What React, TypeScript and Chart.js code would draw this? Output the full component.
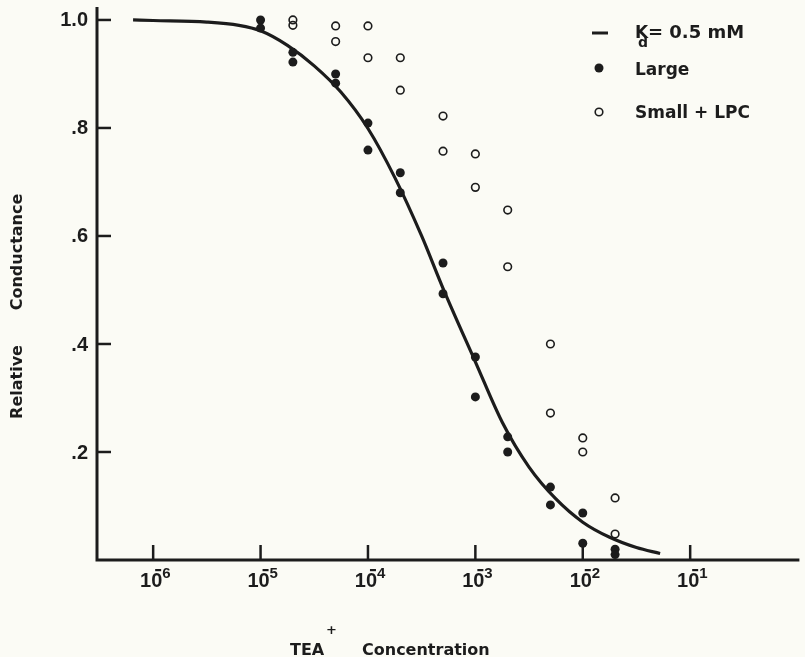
import React, { useEffect, useRef } from 'react';
import { Chart, registerables } from 'chart.js';

Chart.register(...registerables);

// ---- Data ----
// Fitted curve, Kd = 0.5 mM
const curveX = [6.5e-7, 1e-6, 3.16e-6, 6.3e-6, 1e-5, 1.78e-5, 3.16e-5, 5.62e-5, 1e-4, 1.78e-4, 3.16e-4, 5.0e-4, 1e-3, 1.78e-3, 3.16e-3, 5.62e-3, 1e-2, 1.78e-2, 3.16e-2, 5.25e-2];
const curveY = [1.0, 0.999, 0.996, 0.99, 0.98, 0.953, 0.915, 0.866, 0.799, 0.708, 0.6, 0.503, 0.367, 0.255, 0.172, 0.113, 0.07, 0.042, 0.023, 0.012];

// Large (filled circles)
const largeX = [1e-5, 1e-5, 2e-5, 2e-5, 5e-5, 5e-5, 1e-4, 1e-4, 2e-4, 2e-4, 5e-4, 5e-4, 1e-3, 1e-3, 2e-3, 2e-3, 5e-3, 5e-3, 1e-2, 1e-2, 2e-2, 2e-2];
const largeY = [1.0, 0.985, 0.94, 0.922, 0.9, 0.883, 0.809, 0.759, 0.717, 0.68, 0.55, 0.493, 0.376, 0.302, 0.228, 0.2, 0.135, 0.102, 0.087, 0.031, 0.02, 0.01];

// Small + LPC (open circles)
const smallX = [2e-5, 2e-5, 5e-5, 5e-5, 1e-4, 1e-4, 2e-4, 2e-4, 5e-4, 5e-4, 1e-3, 1e-3, 2e-3, 2e-3, 5e-3, 5e-3, 1e-2, 1e-2, 2e-2, 2e-2];
const smallY = [1.0, 0.99, 0.989, 0.96, 0.989, 0.93, 0.93, 0.87, 0.822, 0.757, 0.752, 0.69, 0.648, 0.543, 0.4, 0.272, 0.226, 0.2, 0.115, 0.048];

// Axes
const xTickValues = [1e-6, 1e-5, 1e-4, 1e-3, 1e-2, 1e-1];
const xTickBase = ['10', '10', '10', '10', '10', '10'];
const xTickExps = ['6', '5', '4', '3', '2', '1'];
const yTickValues = [0.2, 0.4, 0.6, 0.8, 1.0];
const yTickLabels = ['.2', '.4', '.6', '.8', '1.0'];

const X_MIN = 3.0e-7;
const X_MAX = 1.04;
const Y_MIN = 0;
const Y_MAX = 1.024;

const INK = '#1c1c1c';
const BG = '#fbfbf5';
const NUM_FONT = '"Liberation Sans", Arial, sans-serif';
const TXT_FONT = '"DejaVu Sans", sans-serif';

const bgPlugin = {
  id: 'bg',
  beforeDraw(chart: any) {
    const ctx = chart.ctx;
    ctx.save();
    ctx.fillStyle = BG;
    ctx.fillRect(0, 0, chart.width, chart.height);
    ctx.restore();
  },
};

const axesPlugin = {
  id: 'axesCustom',
  afterDraw(chart: any) {
    const ctx: CanvasRenderingContext2D = chart.ctx;
    const xs = chart.scales.x;
    const ys = chart.scales.y;
    const area = chart.chartArea;
    ctx.save();
    ctx.strokeStyle = INK;
    ctx.fillStyle = INK;
    ctx.lineWidth = 3;
    ctx.lineCap = 'butt';
    // axis lines
    const x0 = area.left;
    const y0 = ys.getPixelForValue(0);
    ctx.beginPath();
    ctx.moveTo(x0, area.top);
    ctx.lineTo(x0, y0 + 1.5);
    ctx.moveTo(x0 - 1.5, y0);
    ctx.lineTo(area.right, y0);
    ctx.stroke();

    // y ticks (inward) and labels
    ctx.lineWidth = 2.5;
    ctx.font = `bold 20px ${NUM_FONT}`;
    ctx.textAlign = 'right';
    ctx.textBaseline = 'middle';
    yTickValues.forEach((v, i) => {
      const py = ys.getPixelForValue(v);
      ctx.beginPath();
      ctx.moveTo(x0, py);
      ctx.lineTo(x0 + 14, py);
      ctx.stroke();
      ctx.fillText(yTickLabels[i], x0 - 9, py + 1);
    });

    // x ticks (inward) and labels: 10 with superscript negative exponent
    xTickValues.forEach((v, i) => {
      const px = xs.getPixelForValue(v);
      ctx.lineWidth = 2.5;
      ctx.beginPath();
      ctx.moveTo(px, y0);
      ctx.lineTo(px, y0 - 15);
      ctx.stroke();
      ctx.font = `bold 20px ${NUM_FONT}`;
      ctx.textAlign = 'center';
      ctx.textBaseline = 'alphabetic';
      ctx.fillText(xTickBase[i], px - 2, y0 + 27);
      // superscript minus sign
      ctx.fillRect(px + 2, y0 + 9, 6, 2.2);
      ctx.font = `bold 15px ${NUM_FONT}`;
      ctx.textAlign = 'left';
      ctx.fillText(xTickExps[i], px + 9, y0 + 18);
    });

    // axis titles
    ctx.font = `bold 16px ${TXT_FONT}`;
    ctx.textAlign = 'left';
    ctx.textBaseline = 'alphabetic';
    ctx.fillText('TEA', 290, 655);
    ctx.font = `bold 13px ${TXT_FONT}`;
    ctx.fillText('+', 326, 634);
    ctx.font = `bold 16px ${TXT_FONT}`;
    ctx.fillText('Concentration', 362, 655);

    ctx.save();
    ctx.textAlign = 'center';
    ctx.textBaseline = 'middle';
    ctx.translate(18, 382);
    ctx.rotate(-Math.PI / 2);
    ctx.fillText('Relative', 0, 0);
    ctx.restore();
    ctx.save();
    ctx.textAlign = 'center';
    ctx.textBaseline = 'middle';
    ctx.translate(18, 252);
    ctx.rotate(-Math.PI / 2);
    ctx.fillText('Conductance', 0, 0);
    ctx.restore();

    // legend
    const lx = 599;
    const tx = 635;
    ctx.lineWidth = 3;
    ctx.beginPath();
    ctx.moveTo(lx - 7, 33);
    ctx.lineTo(lx + 9, 33);
    ctx.stroke();
    ctx.beginPath();
    ctx.arc(lx, 68, 4.5, 0, Math.PI * 2);
    ctx.fill();
    ctx.lineWidth = 1.6;
    ctx.beginPath();
    ctx.arc(lx, 112, 3.8, 0, Math.PI * 2);
    ctx.stroke();

    ctx.textAlign = 'left';
    ctx.textBaseline = 'alphabetic';
    ctx.font = `bold 17px ${TXT_FONT}`;
    ctx.fillText('K', tx, 38);
    ctx.font = `bold 14px ${TXT_FONT}`;
    ctx.fillText('d', tx + 3, 47);
    ctx.font = `bold 18px ${TXT_FONT}`;
    ctx.fillText('= 0.5 mM', tx + 13, 38);
    ctx.font = `bold 17px ${TXT_FONT}`;
    ctx.fillText('Large', tx, 75);
    ctx.fillText('Small + LPC', tx, 118);

    ctx.restore();
  },
};

export default function App() {
  const ref = useRef<HTMLCanvasElement>(null);
  useEffect(() => {
    const canvas = ref.current;
    if (!canvas) return;
    const chart = new Chart(canvas, {
      type: 'scatter',
      data: {
        datasets: [
          {
            label: 'Kd = 0.5 mM',
            data: curveX.map((x, i) => ({ x, y: curveY[i] })),
            showLine: true,
            borderColor: INK,
            borderWidth: 3.2,
            pointRadius: 0,
            cubicInterpolationMode: 'monotone',
            clip: false,
          } as any,
          {
            label: 'Large',
            data: largeX.map((x, i) => ({ x, y: largeY[i] })),
            pointRadius: 4.5,
            pointBackgroundColor: INK,
            pointBorderColor: INK,
            pointBorderWidth: 0,
            clip: false,
          } as any,
          {
            label: 'Small + LPC',
            data: smallX.map((x, i) => ({ x, y: smallY[i] })),
            pointRadius: 3.8,
            pointBackgroundColor: 'rgba(0,0,0,0)',
            pointBorderColor: INK,
            pointBorderWidth: 1.6,
            clip: false,
          } as any,
        ],
      },
      options: {
        animation: false,
        responsive: false,
        devicePixelRatio: 1,
        events: [],
        layout: { padding: { left: 97, right: 2, top: 7, bottom: 97 } },
        scales: {
          x: { type: 'logarithmic', min: X_MIN, max: X_MAX, display: false },
          y: { type: 'linear', min: Y_MIN, max: Y_MAX, display: false },
        },
        plugins: {
          legend: { display: false },
          tooltip: { enabled: false },
        },
      },
      plugins: [bgPlugin, axesPlugin],
    });
    return () => chart.destroy();
  }, []);

  return (
    <div style={{ position: 'fixed', left: 0, top: 0, width: 805, height: 657, background: BG }}>
      <canvas ref={ref} width={805} height={657} style={{ display: 'block', width: 805, height: 657 }} />
    </div>
  );
}
